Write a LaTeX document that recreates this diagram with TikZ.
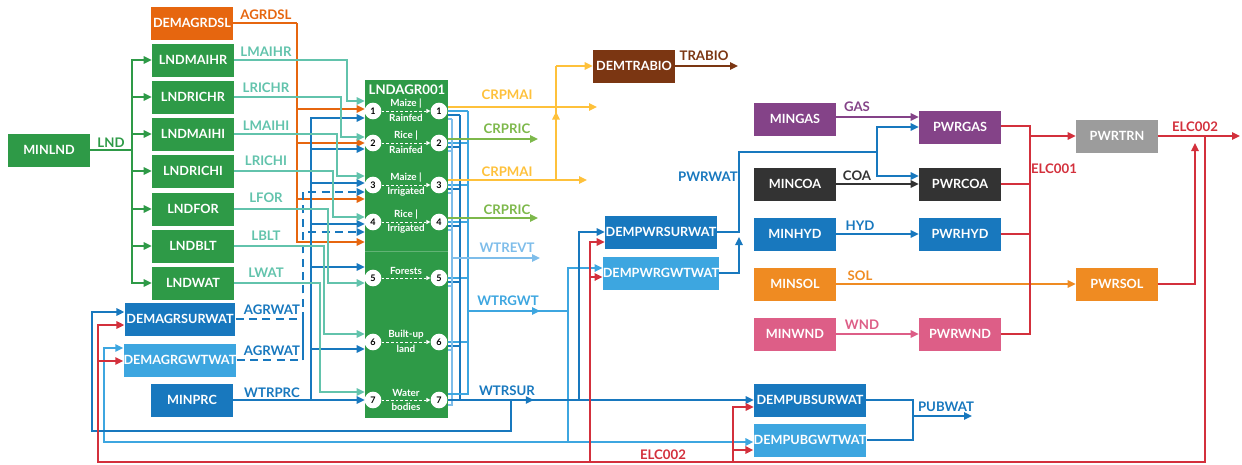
\documentclass[tikz,border=0pt]{standalone}
\usepackage{fontspec}
\setmainfont{Lato}
\usetikzlibrary{arrows.meta,decorations.markings}
\definecolor{cgreen}{HTML}{2E9A47}
\definecolor{cteal}{HTML}{62C3AC}
\definecolor{corange}{HTML}{E6660F}
\definecolor{cdblue}{HTML}{1878BE}
\definecolor{clblue}{HTML}{3DA6E0}
\definecolor{cpblue}{HTML}{7EBDEA}
\definecolor{cbrown}{HTML}{7B3612}
\definecolor{cyellow}{HTML}{FEC13B}
\definecolor{clgreen}{HTML}{7DB84B}
\definecolor{cpurple}{HTML}{844388}
\definecolor{cdark}{HTML}{333333}
\definecolor{cgray}{HTML}{9C9C9C}
\definecolor{csol}{HTML}{EF8B22}
\definecolor{cpink}{HTML}{DD5E87}
\definecolor{cred}{HTML}{D3303C}
\tikzset{
 bx/.style={rectangle, fill=#1, text=white, font=\bfseries\fontsize{9.5}{11}\selectfont, minimum height=24.75pt, minimum width=61.5pt, inner sep=0pt},
 wbx/.style={minimum width=83pt},
 lbl/.style={font=\bfseries\fontsize{9.9}{11}\selectfont, text=#1, inner sep=0pt},
 ln/.style={draw=#1, line width=1.4pt},
 arr/.style={-{Triangle[length=6pt,width=5.5pt]}},
 circ/.style={circle, fill=white, text=black, minimum size=12.5pt, inner sep=0pt, font=\bfseries\fontsize{6.8}{7}\selectfont},
 sm/.style={text=white, font=\bfseries\fontsize{7.4}{8}\selectfont, inner sep=0pt},
 midtip/.style={postaction={decorate}, decoration={markings, mark=at position #1 with {\arrow{Triangle[length=6pt,width=5.5pt]}}}},
 dsh/.style={dash pattern=on 6pt off 4pt},
}
\begin{document}
\begin{tikzpicture}[x=0.75pt,y=-0.75pt]
\useasboundingbox (0,0) rectangle (1242,464);
% ---------------- left boxes
\node[bx=cgreen] (minlnd) at (49,150) {MINLND};
\node[bx=corange] (demagrdsl) at (192,23) {DEMAGRDSL};
\node[bx=cgreen] (bmaihr) at (193,60) {LNDMAIHR};
\node[bx=cgreen] (brichr) at (193,97) {LNDRICHR};
\node[bx=cgreen] (bmaihi) at (193,134) {LNDMAIHI};
\node[bx=cgreen] (brichi) at (193,171) {LNDRICHI};
\node[bx=cgreen] (bfor) at (193,209) {LNDFOR};
\node[bx=cgreen] (bblt) at (193,246) {LNDBLT};
\node[bx=cgreen] (bwat) at (193,283) {LNDWAT};
\node[bx=cdblue, wbx] (dsurwat) at (180,319) {DEMAGRSURWAT};
\node[bx=clblue, wbx] (dgwtwat) at (180,360) {DEMAGRGWTWAT};
\node[bx=cdblue] (minprc) at (192,400) {MINPRC};
% ---------------- LNDAGR001
\node[fill=cgreen, minimum width=62.25pt, minimum height=253.5pt, inner sep=0pt] (agr) at (406.5,249) {};
\node[lbl=white] (agrt) at (407,90) {LNDAGR001};
\draw[white, opacity=.25, line width=.6pt] (agr.west |- 0,251) -- (agr.east |- 0,251);
\foreach \i/\y in {1/111,2/143,3/185,4/222,5/278,6/342,7/400} {
  \node[circ] (l\i) at (373,\y) {\i};
  \node[circ] (r\i) at (439,\y) {\i};
  \draw[white, dash pattern=on 2pt off 1.5pt, line width=.6pt, -{Triangle[length=3pt,width=3pt]}] (l\i) -- (r\i);
}
\node[sm] (t1a) at (406,104) {Maize |}; \node[sm] (t1b) at (406,118) {Rainfed};
\node[sm] (t2a) at (406,136) {Rice |}; \node[sm] (t2b) at (406,150) {Rainfed};
\node[sm] (t3a) at (406,178) {Maize |}; \node[sm] (t3b) at (406,192) {Irrigated};
\node[sm] (t4a) at (406,215) {Rice |}; \node[sm] (t4b) at (406,229) {Irrigated};
\node[sm] (t5a) at (406,271) {Forests};
\node[sm] (t6a) at (406,335) {Built-up}; \node[sm] (t6b) at (406,349) {land};
\node[sm] (t7a) at (406,393) {Water}; \node[sm] (t7b) at (406,407) {bodies};
% ---------------- LND fan
\coordinate (lndj) at (132,150);
\draw[ln=cgreen] (minlnd.east) -- (lndj);
\foreach \b in {bmaihr,brichr,bmaihi,brichi,bfor,bblt,bwat} \draw[ln=cgreen,arr] (lndj) |- (\b.west);
\node[lbl=cgreen] (llnd) at (111,143) {LND};
% ---------------- orange AGRDSL
\coordinate (orj) at (297,23);
\draw[ln=corange] (demagrdsl.east) -- (orj);
\foreach \y in {109,143,199,242} \draw[ln=corange,arr] (orj) |- (agr.west |- 0,\y);
% ---------------- blue WTRPRC
\coordinate (bj) at (311,400);
\draw[ln=cdblue,arr] (minprc.east) -- (agr.west |- 0,400);
\foreach \y in {118,149,183,224,267,349} \draw[ln=cdblue,arr] (bj) |- (agr.west |- 0,\y);
% ---------------- dashed AGRWAT
\coordinate (dj) at (303,360);
\draw[ln=cdblue,dsh] (dsurwat.east) -| (dj);
\draw[ln=cdblue,dsh] (dgwtwat.east) -- (dj);
\foreach \y in {192,232} \draw[ln=cdblue,dsh,arr] (dj) |- (agr.west |- 0,\y);
% ---------------- teal
\draw[ln=cteal,arr] (bmaihr.east) -| (347,101) -- (agr.west |- 0,101);
\draw[ln=cteal,arr] (brichr.east) -| (341,137) -- (agr.west |- 0,137);
\draw[ln=cteal,arr] (bmaihi.east) -| (337,176) -- (agr.west |- 0,176);
\draw[ln=cteal,arr] (brichi.east) -| (333,217) -- (agr.west |- 0,217);
\draw[ln=cteal,arr] (bfor.east) -| (328,283) -- (agr.west |- 0,283);
\draw[ln=cteal,arr] (bblt.east) -| (324,334) -- (agr.west |- 0,334);
\draw[ln=cteal,arr] (bwat.east) -| (320,392) -- (agr.west |- 0,392);
% left labels
\node[lbl=corange] (lagrdsl) at (266,15) {AGRDSL};
\node[lbl=cteal] (llmaihr) at (266,52) {LMAIHR};
\node[lbl=cteal] (llrichr) at (266,88) {LRICHR};
\node[lbl=cteal] (llmaihi) at (266,126) {LMAIHI};
\node[lbl=cteal] (llrichi) at (266,161) {LRICHI};
\node[lbl=cteal] (llfor) at (266,198) {LFOR};
\node[lbl=cteal] (llblt) at (266,236) {LBLT};
\node[lbl=cteal] (llwat) at (266,273) {LWAT};
\node[lbl=cdblue] (lagrw1) at (272,310) {AGRWAT};
\node[lbl=cdblue] (lagrw2) at (272,351) {AGRWAT};
\node[lbl=cdblue] (lwtrprc) at (272,393) {WTRPRC};
% ---------------- right of LNDAGR001 : water collectors
\foreach \y in {111,143,185,222,278,342} {
  \draw[ln=cpblue] (agr.east |- 0,\y+8) -- (452,\y+8);
  \draw[ln=cdblue] (agr.east |- 0,\y+4) -- (460,\y+4);
  \draw[ln=clblue] (agr.east |- 0,\y) -- (468,\y);
}
\draw[ln=cpblue] (agr.east |- 0,405) -| (452,119);
\draw[ln=cdblue] (460,400) -- (460,115);
\draw[ln=clblue] (agr.east |- 0,394) -| (468,111);
% crops
\coordinate (crp1) at (597,107);
\coordinate (crp2) at (538,139);
\coordinate (crp3) at (587,180);
\coordinate (crp4) at (538,218);
\coordinate (yc) at (556,180);
\node[bx=cbrown] (demtrabio) at (634,66) {DEMTRABIO};
\draw[ln=cyellow,arr] (agr.east |- 0,107) -- (crp1);
\draw[ln=clgreen,arr] (agr.east |- 0,139) -- (crp2);
\draw[ln=cyellow,arr] (agr.east |- 0,180) -- (crp3);
\draw[ln=clgreen,arr] (agr.east |- 0,218) -- (crp4);
\draw[ln=cyellow,midtip=0.6] (yc) -- (yc |- demtrabio.west);
\draw[ln=cyellow,arr] (yc |- demtrabio.west) -- (demtrabio.west);
\coordinate (trab) at (738,66);
\draw[ln=cbrown,arr] (demtrabio.east) -- (trab);
\node[lbl=cbrown] (ltrabio) at (704,56) {TRABIO};
\node[lbl=cyellow] (lcrp1) at (507,95) {CRPMAI};
\node[lbl=clgreen] (lcrp2) at (507,129) {CRPRIC};
\node[lbl=cyellow] (lcrp3) at (507,172) {CRPMAI};
\node[lbl=clgreen] (lcrp4) at (507,210) {CRPRIC};
% water outputs
\coordinate (evt) at (540,258);
\draw[ln=cpblue,arr] (452,258) -- (evt);
\node[lbl=cpblue] (lwtrevt) at (507,248) {WTREVT};
\node[bx=cdblue, minimum width=84pt] (dpwrsur) at (661,232) {DEMPWRSURWAT};
\node[bx=clblue, minimum width=84pt] (dpwrgwt) at (661,273) {DEMPWRGWTWAT};
\node[bx=cdblue, minimum width=84pt] (dpubsur) at (810,400) {DEMPUBSURWAT};
\node[bx=clblue, minimum width=84pt] (dpubgwt) at (810,440) {DEMPUBGWTWAT};
\coordinate (gt) at (568,311);
\coordinate (gb) at (568,442);
\draw[ln=clblue,midtip=0.72] (468,311) -- (gt);
\draw[ln=clblue,arr] (gt) |- (dpwrgwt.west |- 0,268);
\draw[ln=clblue,arr] (gt) |- (dpubgwt.west |- 0,442);
\draw[ln=clblue,arr] (gb) -| (104,348) -- (dgwtwat.west |- 0,348);
\node[lbl=clblue] (lwtrgwt) at (508,301) {WTRGWT};
\coordinate (sj1) at (511,400);
\coordinate (sj2) at (579,400);
\draw[ln=cdblue,arr,midtip=0.28] (agr.east |- 0,400) -- (dpubsur.west |- 0,400);
\draw[ln=cdblue,arr] (sj2) |- (dpwrsur.west |- 0,232);
\draw[ln=cdblue,arr] (sj1) -- (511,431) -| (92,312) -- (dsurwat.west |- 0,312);
\node[lbl=cdblue] (lwtrsur) at (507,391) {WTRSUR};
% ---------------- right block
\node[bx=cpurple] (mingas) at (795,119) {MINGAS};
\node[bx=cdark] (mincoa) at (795,184) {MINCOA};
\node[bx=cdblue] (minhyd) at (795,234) {MINHYD};
\node[bx=csol] (minsol) at (795,284) {MINSOL};
\node[bx=cpink] (minwnd) at (795,334) {MINWND};
\node[bx=cpurple] (pwrgas) at (960,127) {PWRGAS};
\node[bx=cdark] (pwrcoa) at (960,184) {PWRCOA};
\node[bx=cdblue] (pwrhyd) at (960,234) {PWRHYD};
\node[bx=cpink] (pwrwnd) at (960,334) {PWRWND};
\node[bx=cgray] (pwrtrn) at (1117,136) {PWRTRN};
\node[bx=csol] (pwrsol) at (1117,284) {PWRSOL};
\draw[ln=cpurple,arr,line width=1.1pt] (mingas.east |- 0,117) -- (pwrgas.west |- 0,117);
\draw[ln=cdark,arr,line width=1.1pt] (mincoa.east) -- (pwrcoa.west);
\draw[ln=cdblue,arr,line width=1.1pt] (minhyd.east) -- (pwrhyd.west);
\draw[ln=csol,arr,line width=1.1pt] (minsol.east) -- (pwrsol.west);
\draw[ln=cpink,arr,line width=1.1pt] (minwnd.east) -- (pwrwnd.west);
\node[lbl=cpurple] (lgas) at (857,107) {GAS};
\node[lbl=cdark] (lcoa) at (857,176) {COA};
\node[lbl=cdblue] (lhyd) at (860,226) {HYD};
\node[lbl=csol] (lsol) at (860,276) {SOL};
\node[lbl=cpink] (lwnd) at (862,325) {WND};
% PWRWAT
\coordinate (pj) at (739,232);
\coordinate (pk) at (877,152);
\draw[ln=cdblue] (dpwrsur.east) -- (pj) |- (pk);
\draw[ln=cdblue,arr] (dpwrgwt.east) -| (739,237);
\draw[ln=cdblue,arr] (pk) |- (pwrgas.west |- 0,127);
\draw[ln=cdblue,arr] (pk) |- (pwrcoa.west |- 0,176);
\node[lbl=cdblue] (lpwrwat) at (708,177) {PWRWAT};
% ELC001
\coordinate (e1) at (1030,126);
\draw[ln=cred] (pwrgas.east |- 0,126) -- (e1) |- (pwrwnd.east);
\draw[ln=cred] (pwrcoa.east) -- (pwrcoa.east -| e1);
\draw[ln=cred] (pwrhyd.east) -- (pwrhyd.east -| e1);
\draw[ln=cred,arr] (e1 |- pwrtrn.west) -- (pwrtrn.west);
\node[lbl=cred] (lelc1) at (1054,169) {ELC001};
% ELC002
\coordinate (rj) at (1205,136);
\coordinate (elcend) at (1240,136);
\draw[ln=cred,arr] (pwrtrn.east) -- (elcend);
\draw[ln=cred,arr] (pwrsol.east) -| (1195,143);
\node[lbl=cred] (lelc2) at (1195,127) {ELC002};
\draw[ln=cred,arr] (rj) -- (1205,462) -| (98,325) -- (dsurwat.west |- 0,325);
\draw[ln=cred,arr] (98,361) -- (dgwtwat.west |- 0,361);
\draw[ln=cred,arr] (590,462) |- (dpwrsur.west |- 0,242);
\draw[ln=cred,arr] (590,277) -- (dpwrgwt.west |- 0,277);
\draw[ln=cred,arr] (733,462) |- (dpubsur.west |- 0,407);
\draw[ln=cred,arr] (733,450) -- (dpubgwt.west |- 0,450);
\node[lbl=cred] (lelc2b) at (663,455) {ELC002};
% PUBWAT
\coordinate (pubj) at (913,416);
\coordinate (pubend) at (972,416);
\draw[ln=cdblue] (dpubsur.east) -| (pubj) |- (dpubgwt.east);
\draw[ln=cdblue,arr] (pubj) -- (pubend);
\node[lbl=cdblue] (lpubwat) at (946,407) {PUBWAT};
\end{tikzpicture}
\end{document}
